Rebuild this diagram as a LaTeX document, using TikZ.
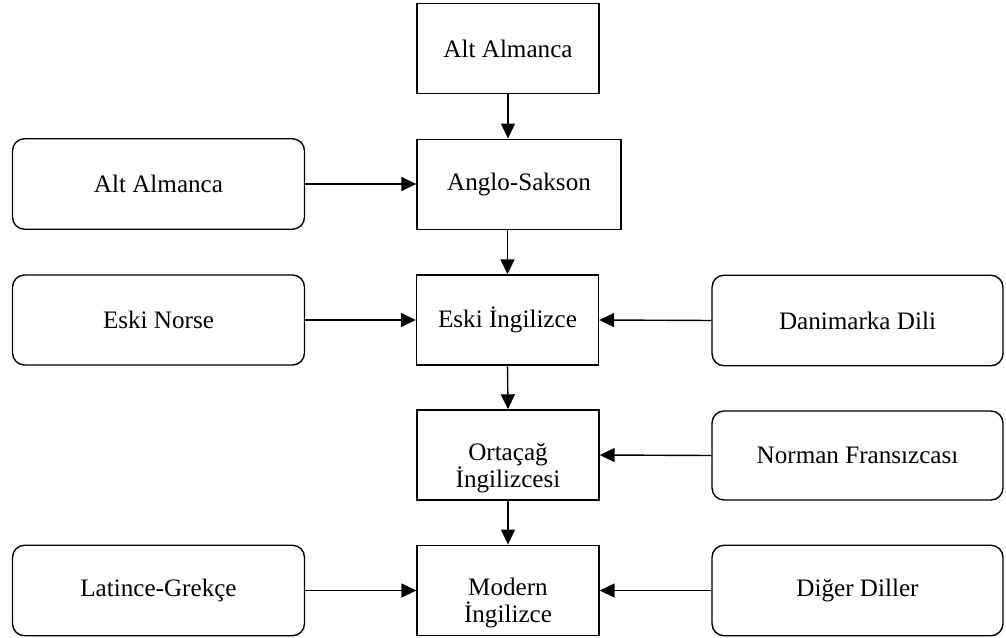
\documentclass[tikz,border=0pt]{standalone}
\usepackage{fontspec}
\setmainfont{Liberation Serif}
\usepackage{tikz}
\usetikzlibrary{arrows.meta,positioning,calc}

\tikzset{
  dil/.style={draw,line width=0.8pt,minimum width=3.64cm,minimum height=1.81cm,
    align=center,inner sep=0pt,font=\fontsize{14.3}{15.5}\selectfont},
  yandil/.style={dil,rounded corners=0.24cm,minimum width=5.84cm},
  ok/.style={line width=0.8pt,-{Triangle[length=0.3cm,width=0.28cm]}}
}

\begin{document}
\begin{tikzpicture}[x=0.02cm,y=-0.02cm]
  \useasboundingbox (0,0) rectangle (1006,638); % sayfanın kenarları

  % ortadaki sütun: İngilizcenin gelişimi
  \node[dil] (altust) at (508,48.5) {Alt Almanca};
  \node[dil,minimum width=4.08cm] (anglo) at (519,184.5) {Anglo-Sakson};
  \node[dil,minimum height=1.8cm] (eski) at (507.5,320) {Eski İngilizce};
  \node[dil,minimum height=1.8cm] (orta) at (508,455) {\rule{0pt}{0.88cm}Ortaçağ\\İngilizcesi}; % yazı kutunun biraz altında
  \node[dil] (modern) at (508,590.5) {\rule{0pt}{0.84cm}Modern\\İngilizce};

  % soldaki köşeleri yuvarlak kutular
  \node[yandil] (altsol) at (158.5,184) {Alt Almanca};
  \node[yandil,minimum height=1.8cm] (norse) at (158.5,320) {Eski Norse};
  \node[yandil] (latince) at (158.5,590.5) {Latince-Grekçe};

  % sağdaki köşeleri yuvarlak kutular
  \node[yandil,minimum width=5.82cm] (danimarka) at (857.5,320.5) {Danimarka Dili};
  \node[yandil,minimum width=5.82cm,minimum height=1.78cm] (norman) at (857.5,455.5) {Norman Fransızcası};
  \node[yandil,minimum width=5.82cm] (diger) at (857.5,590.5) {Diğer Diller};

  % aşağı doğru oklar
  \draw[ok] (altust.south) -- (altust.south |- anglo.north);
  \draw[ok] (anglo.south -| eski.north) -- (eski.north);
  \draw[ok] (eski.south) -- (orta.north);
  \draw[ok] (orta.south) -- (modern.north);

  % yandan gelen oklar
  \draw[ok] (altsol.east) -- (altsol.east -| anglo.west);
  \draw[ok] (norse.east) -- (eski.west);
  \draw[ok] (danimarka.west) -- (eski.east);
  \draw[ok] (norman.west) -- (orta.east);
  \draw[ok] (latince.east) -- (modern.west);
  \draw[ok] (diger.west) -- (modern.east);
\end{tikzpicture}
\end{document}
